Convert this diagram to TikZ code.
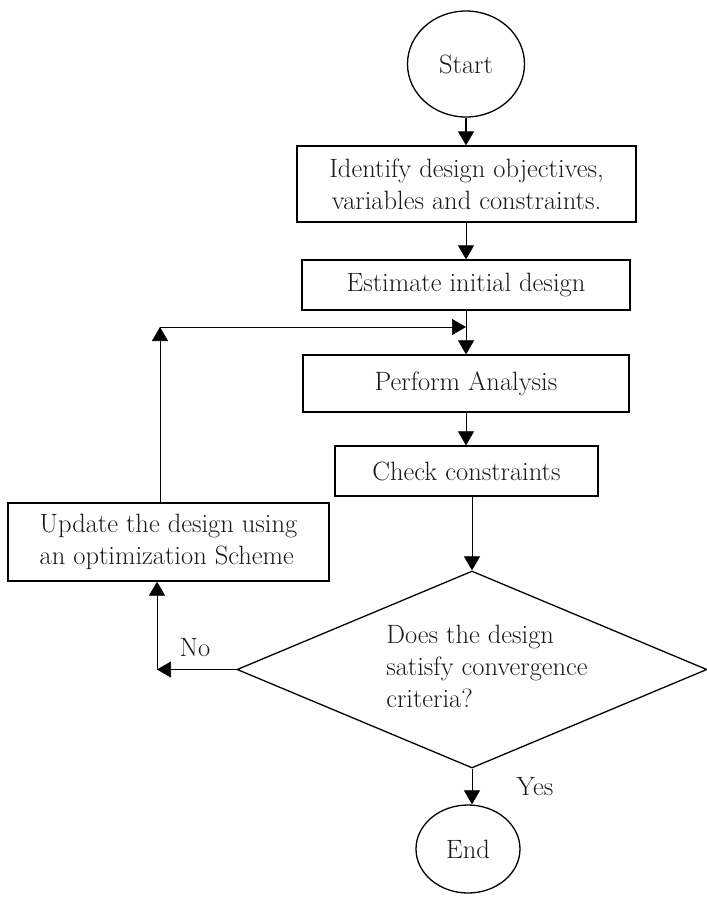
\documentclass[tikz,border=0pt]{standalone}
\usepackage{amsmath,amssymb}
\usepackage{tikz}
\usetikzlibrary{shapes.geometric,arrows.meta}

\begin{document}
\begin{tikzpicture}[x=1pt, y=-1pt,
    every node/.style={font=\fontsize{26.5}{32}\selectfont, text=black!90},
    terminal/.style={ellipse, draw, line width=1.3pt, inner sep=0pt},
    process/.style={rectangle, draw, line width=1.3pt, align=center},
    decision/.style={diamond, draw, line width=1.3pt, inner sep=0pt, aspect=2.4},
    flow/.style={-{Triangle[length=14pt,width=16pt]}, line width=0.7pt}
    ]
    \useasboundingbox (0,0) rectangle (707,898);
    \node[terminal, minimum width=117pt, minimum height=106pt] (start) at (466,64) {Start};
    \node[process, minimum width=339pt, minimum height=76pt] (objectives) at (466.5,184)
      {Identify design objectives,\\ variables and constraints.};
    \node[process, minimum width=328pt, minimum height=50pt] (estimate) at (466,285) {Estimate initial design};
    \node[process, minimum width=326pt, minimum height=57pt] (analysis) at (466,383.5) {Perform Analysis};
    \node[process, minimum width=263pt, minimum height=50pt] (check) at (466.5,471) {Check constraints};
    \node[process, minimum width=321pt, minimum height=78pt, align=left] (update) at (168.5,542)
      {Update the design using\\ an optimization Scheme};
    \node[decision, minimum width=470pt, minimum height=197pt] (converge) at (472,669.5)
      {\hspace*{30pt}\begin{tabular}{@{}l@{}}Does the design\\ satisfy convergence\\ criteria?\end{tabular}};
    \node[terminal, minimum width=104pt, minimum height=88pt] (end) at (468,849) {End};
    \node (no) at (195,648) {No};
    \node (yes) at (535,787) {Yes};

    \coordinate (loop) at (160,327);
    \coordinate (join) at (estimate.south |- loop);
    \coordinate (turn) at (157,669.5);

    \draw[flow, line width=1.2pt] (start.south) -- (start.south |- objectives.north);
    \draw[flow] (objectives.south -| estimate.north) -- (estimate.north);
    \draw[flow] (estimate.south) -- (analysis.north);
    \draw[flow] (analysis.south) -- (analysis.south |- check.north);
    \draw[flow] (check.south -| converge.north) -- (converge.north);
    \draw[flow] (update.north -| loop) -- (loop);
    \draw[flow] (loop) -- (join);
    \draw[flow] (converge.west) -- (turn);
    \draw[flow] (turn) -- (turn |- update.south);
    \draw[flow] (converge.south) -- (converge.south |- end.north);
\end{tikzpicture}
\end{document}
